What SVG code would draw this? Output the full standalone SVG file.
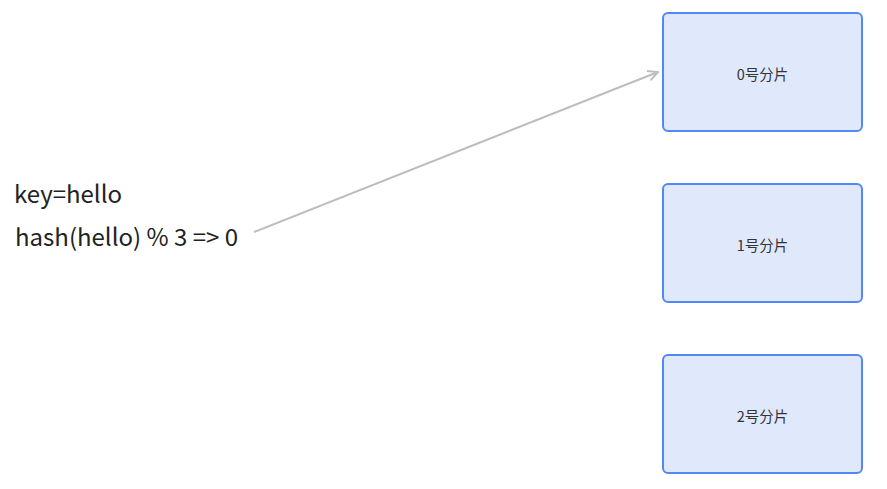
<svg xmlns="http://www.w3.org/2000/svg" width="887" height="489" viewBox="0 0 887 489">
<style>
.box{fill:#e0e8fc;stroke:#5288f3;stroke-width:2}
.lbl{font-family:"Noto Sans CJK SC","Noto Sans",sans-serif;font-size:14.5px;fill:#333;text-anchor:middle;dominant-baseline:central}
.big{font-family:"Noto Sans CJK SC","Noto Sans",sans-serif;font-size:24px;fill:#222}
.conn{stroke:#bdbdbd;stroke-width:2;fill:none}
</style>
<defs>
<marker id="arr" viewBox="0 0 12 12" refX="11" refY="6" markerWidth="12" markerHeight="12" markerUnits="userSpaceOnUse" orient="auto">
<path d="M1,1 L11,6 L1,11" fill="none" stroke="#bdbdbd" stroke-width="2"/>
</marker>
</defs>
<g id="text-key">
<text class="big" x="14" y="203">key=hello</text>
<text class="big" x="15" y="246">hash(hello) % 3 =&gt; 0</text>
</g>
<g id="node0"><rect class="box" x="663" y="13" width="199" height="118" rx="5"/><text class="lbl" x="762.5" y="73">0号分片</text></g>
<g id="node1"><rect class="box" x="663" y="184" width="199" height="118" rx="5"/><text class="lbl" x="762.5" y="244">1号分片</text></g>
<g id="node2"><rect class="box" x="663" y="355" width="199" height="118" rx="5"/><text class="lbl" x="762.5" y="415">2号分片</text></g>
<g id="connectors">
<line class="conn" x1="254" y1="232" x2="658" y2="72" marker-end="url(#arr)"/>
</g>
</svg>
